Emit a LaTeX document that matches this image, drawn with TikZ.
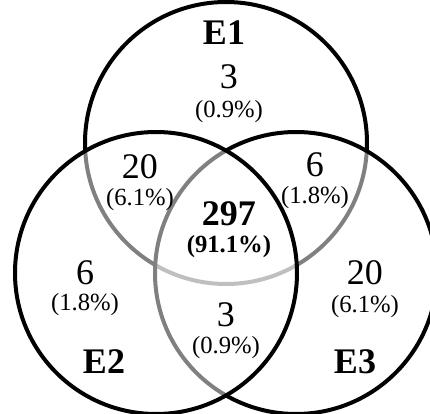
\documentclass[tikz,border=0pt]{standalone}
\usepackage{fontspec}
\setmainfont{Liberation Serif}
\usepackage{tikz}

\begin{document}
\begin{tikzpicture}[
		x=0.75pt, y=-0.75pt,
		set/.style={draw=black, line width=3pt, fill=white, fill opacity=0.5},
		every node/.style={inner sep=0pt, align=center},
		cnt/.style={font=\fontsize{27}{27}\selectfont},
		pct/.style={font=\fontsize{18.5}{18.5}\selectfont},
		setname/.style={font=\fontsize{27}{27}\selectfont\bfseries}
		]
		
		\useasboundingbox (0,0) rectangle (430,414);
		
		\draw[set] (226,143) circle (141);
		\draw[set] (296,273) circle (141);
		\draw[set] (156,273) circle (141);
		
		\node[setname] (lone) at (224,33) {E1};
		\node[setname] (ltwo) at (104,362) {E2};
		\node[setname] (lthree) at (355,362) {E3};
		
		\node[cnt] (n1) at (229,77) {3};
		\node[pct] (p1) at (229,112) {(0.9\%)};
		\node[cnt] (n12) at (140,167) {20};
		\node[pct] (p12) at (140,200) {(6.1\%)};
		\node[cnt] (n13) at (315,165) {6};
		\node[pct] (p13) at (315,198) {(1.8\%)};
		\node[cnt, font=\fontsize{27}{27}\selectfont\bfseries] (n123) at (229,214) {297};
		\node[pct, font=\fontsize{18.5}{18.5}\selectfont\bfseries] (p123) at (229,247) {(91.1\%)};
		\node[cnt] (n2) at (85,273) {6};
		\node[pct] (p2) at (85,305) {(1.8\%)};
		\node[cnt] (n23) at (226,315) {3};
		\node[pct] (p23) at (226,348) {(0.9\%)};
		\node[cnt] (n3) at (365,273) {20};
		\node[pct] (p3) at (365,307) {(6.1\%)};
		
	\end{tikzpicture}
\end{document}
